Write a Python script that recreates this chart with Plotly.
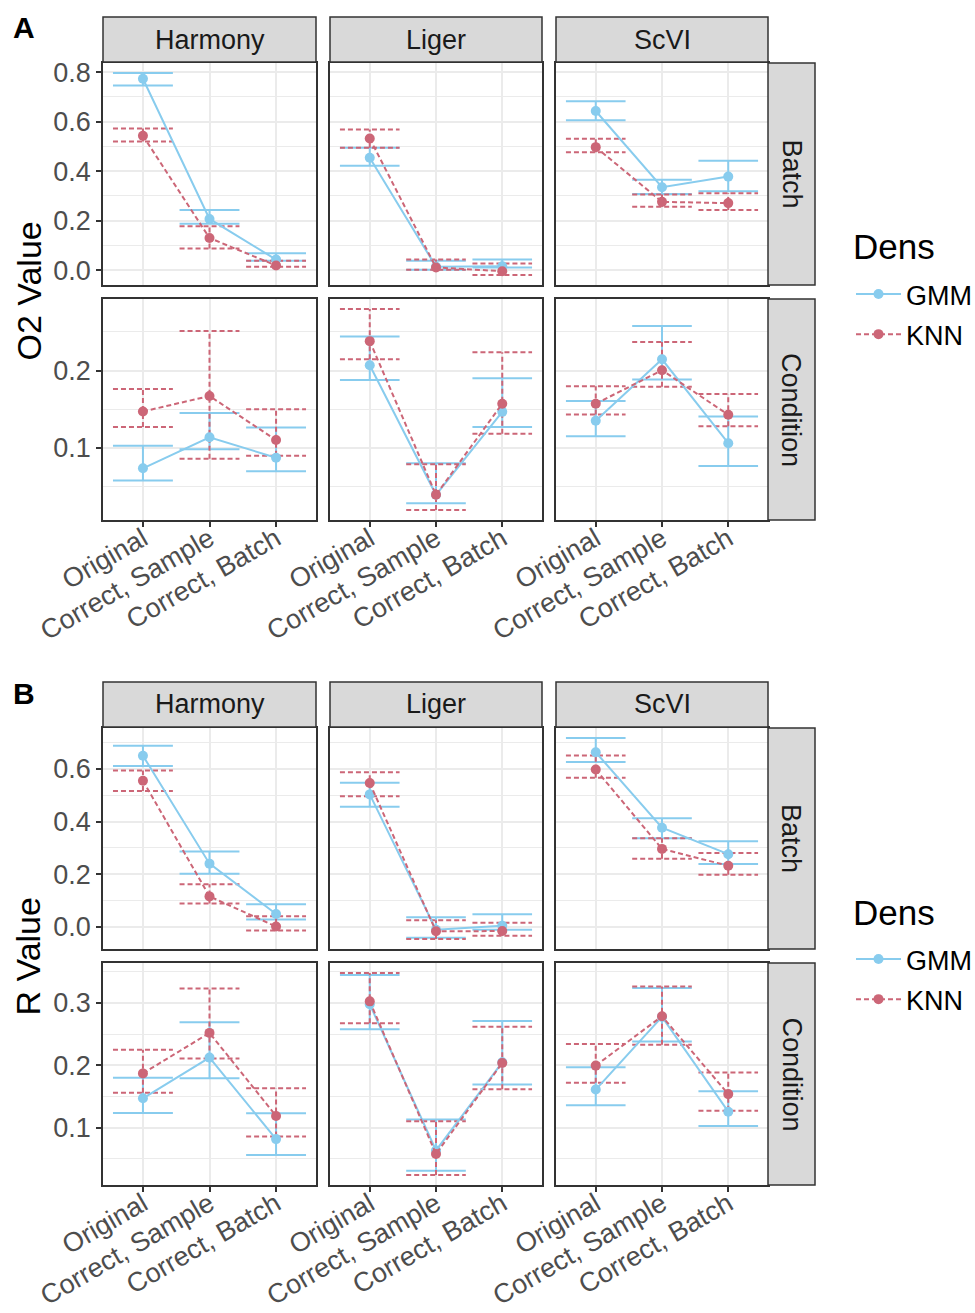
import plotly.graph_objects as go

# ---- data -----------------------------------------------------------------
methods = ["Harmony", "Liger", "ScVI"]
steps = ["Original", "Correct, Sample", "Correct, Batch"]
row_names = ["Batch", "Condition"]
dens_names = ["GMM", "KNN"]

# Each list holds 9 values: Harmony (Original, Correct Sample, Correct Batch),
# then Liger, then ScVI.

# O2 metric, Batch facet
o2_batch_gmm    = [0.773, 0.207, 0.043, 0.454, 0.014, 0.016, 0.643, 0.335, 0.378]
o2_batch_gmm_lo = [0.746, 0.188, 0.038, 0.422, 0.002, 0.011, 0.606, 0.308, 0.319]
o2_batch_gmm_hi = [0.796, 0.243, 0.068, 0.495, 0.038, 0.043, 0.682, 0.365, 0.442]
o2_batch_knn    = [0.543, 0.130, 0.019, 0.532, 0.011, -0.004, 0.497, 0.276, 0.271]
o2_batch_knn_lo = [0.520, 0.088, 0.014, 0.495, 0.002, -0.019, 0.476, 0.256, 0.243]
o2_batch_knn_hi = [0.572, 0.177, 0.038, 0.568, 0.043, 0.027, 0.531, 0.306, 0.311]

# O2 metric, Condition facet
o2_cond_gmm    = [0.0735, 0.1136, 0.0872, 0.2068, 0.0392, 0.1465, 0.135, 0.2145, 0.106]
o2_cond_gmm_lo = [0.0577, 0.098, 0.0696, 0.1876, 0.0282, 0.127, 0.115, 0.1885, 0.0764]
o2_cond_gmm_hi = [0.1026, 0.145, 0.1264, 0.244, 0.080, 0.190, 0.1606, 0.2577, 0.1405]
o2_cond_knn    = [0.147, 0.167, 0.110, 0.238, 0.0392, 0.157, 0.157, 0.2004, 0.1427]
o2_cond_knn_lo = [0.127, 0.086, 0.0897, 0.2145, 0.0196, 0.1183, 0.143, 0.179, 0.128]
o2_cond_knn_hi = [0.176, 0.251, 0.150, 0.2795, 0.0786, 0.2235, 0.1795, 0.237, 0.1696]

# R metric, Batch facet
r_batch_gmm    = [0.650, 0.240, 0.049, 0.503, -0.011, 0.004, 0.663, 0.3766, 0.276]
r_batch_gmm_lo = [0.611, 0.202, 0.028, 0.456, -0.041, -0.011, 0.626, 0.3366, 0.2387]
r_batch_gmm_hi = [0.688, 0.286, 0.0855, 0.547, 0.0365, 0.048, 0.717, 0.412, 0.325]
r_batch_knn    = [0.555, 0.1156, 0.0013, 0.546, -0.017, -0.016, 0.5975, 0.296, 0.232]
r_batch_knn_lo = [0.516, 0.089, -0.0136, 0.496, -0.046, -0.034, 0.566, 0.2587, 0.198]
r_batch_knn_hi = [0.594, 0.162, 0.040, 0.587, 0.025, 0.016, 0.651, 0.3366, 0.280]

# R metric, Condition facet
r_cond_gmm    = [0.147, 0.2123, 0.0815, 0.298, 0.0633, 0.2048, 0.161, 0.2777, 0.1255]
r_cond_gmm_lo = [0.1234, 0.179, 0.056, 0.258, 0.0305, 0.169, 0.136, 0.2383, 0.1027]
r_cond_gmm_hi = [0.1798, 0.269, 0.123, 0.345, 0.113, 0.271, 0.1968, 0.324, 0.1585]
r_cond_knn    = [0.187, 0.252, 0.1187, 0.3026, 0.0576, 0.2037, 0.1995, 0.2787, 0.1537]
r_cond_knn_lo = [0.1558, 0.2107, 0.0857, 0.2675, 0.024, 0.1617, 0.1718, 0.233, 0.127]
r_cond_knn_hi = [0.225, 0.3233, 0.163, 0.348, 0.110, 0.262, 0.234, 0.3265, 0.1884]

# ---- styling --------------------------------------------------------------
W, H = 975, 1313
FONT = "Liberation Sans, Arial, Helvetica, sans-serif"
COLORS = {"GMM": "#88CCEE", "KNN": "#CC6677"}
DASH = {"GMM": "solid", "KNN": "5px,3px"}
LW = 2
CAP = 0.45           # half width of the error bar caps, in category units
GRID = "#EBEBEB"
BORDER = "#333333"
AXIS_TXT = "#4D4D4D"

col_px = [(103, 316), (330, 542), (556, 768)]
panels = [
    dict(label="A", title="O2 Value", legend="legend", legend_top=222,
         rows_px=[(63, 285), (299, 520)], strip_px=(17, 62), dticks=[0.2, 0.1],
         data={"Batch": {"GMM": (o2_batch_gmm, o2_batch_gmm_lo, o2_batch_gmm_hi),
                         "KNN": (o2_batch_knn, o2_batch_knn_lo, o2_batch_knn_hi)},
               "Condition": {"GMM": (o2_cond_gmm, o2_cond_gmm_lo, o2_cond_gmm_hi),
                             "KNN": (o2_cond_knn, o2_cond_knn_lo, o2_cond_knn_hi)}}),
    dict(label="B", title="R Value", legend="legend2", legend_top=887,
         rows_px=[(728, 949), (963, 1185)], strip_px=(682, 727), dticks=[0.2, 0.1],
         data={"Batch": {"GMM": (r_batch_gmm, r_batch_gmm_lo, r_batch_gmm_hi),
                         "KNN": (r_batch_knn, r_batch_knn_lo, r_batch_knn_hi)},
               "Condition": {"GMM": (r_cond_gmm, r_cond_gmm_lo, r_cond_gmm_hi),
                             "KNN": (r_cond_knn, r_cond_knn_lo, r_cond_knn_hi)}}),
]


def px_x(p):
    return p / W


def px_y(p):
    return 1 - p / H


fig = go.Figure()
layout = {}
shapes = []
annotations = []
n = 0

for panel in panels:
    for r, row in enumerate(row_names):
        series = panel["data"][row]
        lows = [v for d in dens_names for v in series[d][1]]
        highs = [v for d in dens_names for v in series[d][2]]
        lo_all, hi_all = min(lows), max(highs)
        pad = 0.05 * (hi_all - lo_all)
        yrange = [lo_all - pad, hi_all + pad]
        dtick = panel["dticks"][r]
        y0p, y1p = panel["rows_px"][r]

        for c, method in enumerate(methods):
            n += 1
            xa = "xaxis" if n == 1 else f"xaxis{n}"
            ya = "yaxis" if n == 1 else f"yaxis{n}"
            xr = "x" if n == 1 else f"x{n}"
            yr = "y" if n == 1 else f"y{n}"
            x0p, x1p = col_px[c]
            bottom_row = r == len(row_names) - 1
            first_col = c == 0

            layout[xa] = dict(
                domain=[px_x(x0p), px_x(x1p)], anchor=yr, range=[-0.6, 2.6],
                automargin=False,
                tickmode="array", tickvals=[0, 1, 2], ticktext=steps,
                showticklabels=bottom_row, ticks="outside" if bottom_row else "",
                ticklen=5, tickwidth=1.5, tickcolor=BORDER, tickangle=-30,
                ticklabelstandoff=-14,
                tickfont=dict(size=27, color=AXIS_TXT, family=FONT),
                showgrid=True, gridcolor=GRID, gridwidth=2, zeroline=False,
                showline=True, linecolor=BORDER, linewidth=1.5, mirror=True,
            )
            layout[ya] = dict(
                domain=[px_y(y1p), px_y(y0p)], anchor=xr, range=yrange,
                automargin=False,
                tickmode="linear", tick0=0, dtick=dtick, tickformat=".1f",
                showticklabels=first_col, ticks="outside" if first_col else "",
                ticklen=5, tickwidth=1.5, tickcolor=BORDER,
                tickfont=dict(size=27, color=AXIS_TXT, family=FONT),
                showgrid=True, gridcolor=GRID, gridwidth=2, zeroline=False,
                minor=dict(dtick=dtick / 2, tick0=0, showgrid=True,
                           gridcolor=GRID, gridwidth=1, ticks=""),
                showline=True, linecolor=BORDER, linewidth=1.5, mirror=True,
            )

            lo_i = slice(3 * c, 3 * c + 3)
            # error bars first
            for d in dens_names:
                mean, lo, hi = (s[lo_i] for s in series[d])
                ex, ey = [], []
                for i in range(3):
                    ex += [i, i, None, i - CAP, i + CAP, None, i - CAP, i + CAP, None]
                    ey += [lo[i], hi[i], None, lo[i], lo[i], None, hi[i], hi[i], None]
                fig.add_trace(go.Scatter(
                    x=ex, y=ey, mode="lines", xaxis=xr, yaxis=yr,
                    line=dict(color=COLORS[d], width=LW, dash=DASH[d]),
                    showlegend=False, hoverinfo="skip", legend=panel["legend"]))
            # connecting lines and points
            for d in dens_names:
                mean = series[d][0][lo_i]
                fig.add_trace(go.Scatter(
                    x=[0, 1, 2], y=mean, mode="lines+markers", name=d,
                    xaxis=xr, yaxis=yr, legend=panel["legend"], legendgroup=d,
                    line=dict(color=COLORS[d], width=LW, dash=DASH[d]),
                    marker=dict(color=COLORS[d], size=10),
                    showlegend=(r == 0 and c == 0)))

            # column strip on top row
            if r == 0:
                sy0, sy1 = panel["strip_px"]
                shapes.append(dict(type="rect", xref="paper", yref="paper",
                                   x0=px_x(x0p), x1=px_x(x1p), y0=px_y(sy1), y1=px_y(sy0),
                                   fillcolor="#D9D9D9", line=dict(color=BORDER, width=1.5),
                                   layer="above"))
                annotations.append(dict(text=method, xref="paper", yref="paper",
                                        x=px_x((x0p + x1p) / 2), y=px_y((sy0 + sy1) / 2),
                                        showarrow=False, xanchor="center", yanchor="middle",
                                        font=dict(size=27, color="#1A1A1A", family=FONT)))
        # row strip on the right
        shapes.append(dict(type="rect", xref="paper", yref="paper",
                           x0=px_x(768), x1=px_x(815), y0=px_y(y1p), y1=px_y(y0p),
                           fillcolor="#D9D9D9", line=dict(color=BORDER, width=1.5),
                           layer="above"))
        annotations.append(dict(text=row, xref="paper", yref="paper",
                                x=px_x(791.5), y=px_y((y0p + y1p) / 2), textangle=90,
                                showarrow=False, xanchor="center", yanchor="middle",
                                font=dict(size=27, color="#1A1A1A", family=FONT)))

    # y-axis title and panel tag
    top, bot = panel["rows_px"][0][0], panel["rows_px"][1][1]
    annotations.append(dict(text=panel["title"], xref="paper", yref="paper",
                            x=px_x(28), y=px_y((top + bot) / 2), textangle=-90,
                            showarrow=False, xanchor="center", yanchor="middle",
                            font=dict(size=34, color="black", family=FONT)))
    annotations.append(dict(text=f"<b>{panel['label']}</b>", xref="paper", yref="paper",
                            x=px_x(24), y=px_y(panel["strip_px"][0] + 11),
                            showarrow=False, xanchor="center", yanchor="middle",
                            font=dict(size=30, color="black", family=FONT)))
    # legend title
    annotations.append(dict(text="Dens", xref="paper", yref="paper",
                            x=px_x(851), y=px_y(panel["legend_top"] + 25),
                            showarrow=False, xanchor="left", yanchor="middle",
                            font=dict(size=35, color="black", family=FONT)))
    layout[panel["legend"]] = dict(
        x=px_x(851), y=px_y(panel["legend_top"] + 48), xanchor="left", yanchor="top",
        bgcolor="rgba(0,0,0,0)", borderwidth=0, itemwidth=45, tracegroupgap=2,
        font=dict(size=27, color="black", family=FONT))

fig.update_layout(
    width=W, height=H, margin=dict(l=0, r=0, t=0, b=0, autoexpand=False),
    paper_bgcolor="white", plot_bgcolor="white",
    font=dict(family=FONT), shapes=shapes, annotations=annotations,
    **layout,
)

fig.write_html("out.html")
